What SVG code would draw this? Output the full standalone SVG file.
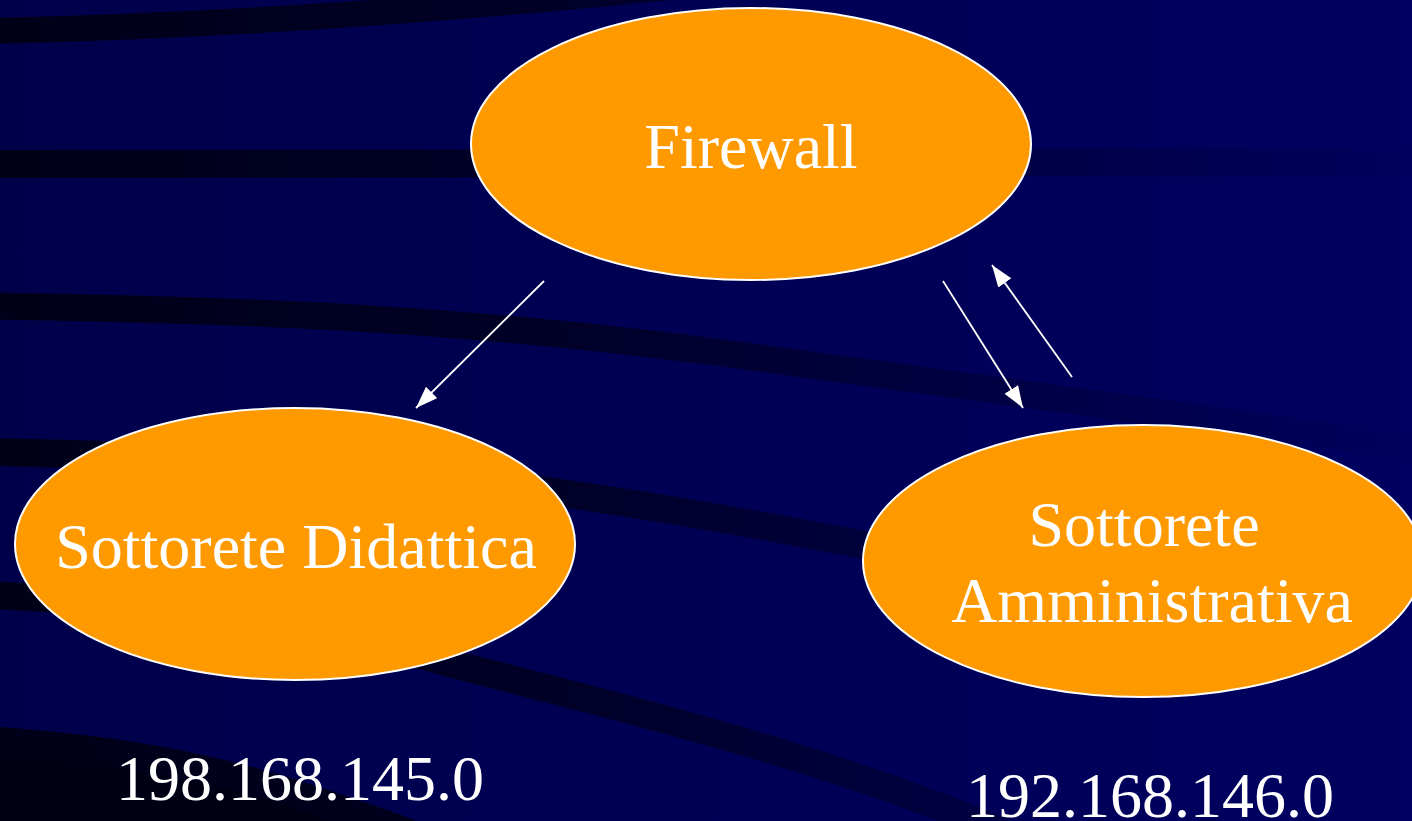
<svg xmlns="http://www.w3.org/2000/svg" width="1412" height="821" viewBox="0 0 1412 821">
  <defs>
    <linearGradient id="bg" x1="0" y1="0" x2="1412" y2="0" gradientUnits="userSpaceOnUse">
      <stop offset="0" stop-color="#00004a"/>
      <stop offset="1" stop-color="#000060"/>
    </linearGradient>
    <linearGradient id="stripe" x1="0" y1="0" x2="1412" y2="0" gradientUnits="userSpaceOnUse">
      <stop offset="0" stop-color="#000018" stop-opacity="1"/>
      <stop offset="0.4" stop-color="#000020" stop-opacity="0.85"/>
      <stop offset="0.7" stop-color="#000028" stop-opacity="0.45"/>
      <stop offset="1" stop-color="#000030" stop-opacity="0.05"/>
    </linearGradient>
    <marker id="arrow" markerUnits="userSpaceOnUse" markerWidth="24" markerHeight="18" refX="22" refY="8" orient="auto">
      <path d="M0,0 L22,8 L0,16 z" fill="#ffffff"/>
    </marker>
    <style>
      .stripe { fill: none; stroke: url(#stripe); }
      .node { fill: #ff9900; stroke: #ffffff; stroke-width: 2; }
      .label { font-family: "Liberation Serif", "Times New Roman", serif; font-size: 64px; fill: #ffffff; text-anchor: middle; }
      .conn { stroke: #ffffff; stroke-width: 1.8; fill: none; marker-end: url(#arrow); }
    </style>
  </defs>

  <g id="background">
    <rect x="0" y="0" width="1412" height="821" fill="url(#bg)"/>
    <path class="stripe" stroke-width="26" d="M-10,31 Q 320,24 720,-18"/>
    <path class="stripe" stroke-width="28" d="M-10,164 L1420,162"/>
    <path class="stripe" stroke-width="27" d="M-10,306 C 250,310 450,318 700,350 S 1200,418 1420,448"/>
    <path class="stripe" stroke-width="28" d="M-10,452 C 200,455 400,470 548,491 S 800,532 1150,600"/>
    <path class="stripe" stroke-width="28" d="M-10,595 C 200,605 350,635 446,662 S 800,745 1010,835"/>
    <path d="M0,727 C 160,740 300,775 440,830 L0,830 z" fill="#000014"/>
    <path class="stripe" stroke-width="28" d="M-10,741 C 150,750 280,780 420,840"/>
  </g>

  <g id="connectors">
    <line class="conn" x1="544" y1="281" x2="416" y2="408"/>
    <line class="conn" x1="943" y1="281" x2="1023" y2="408"/>
    <line class="conn" x1="1072" y1="377" x2="992" y2="265"/>
  </g>

  <g id="node-firewall">
    <ellipse class="node" cx="751" cy="144" rx="280" ry="136"/>
    <text class="label" x="751" y="168">Firewall</text>
  </g>

  <g id="node-didattica">
    <ellipse class="node" cx="295" cy="544" rx="280" ry="136"/>
    <text class="label" x="296" y="568">Sottorete Didattica</text>
  </g>

  <g id="node-amministrativa">
    <ellipse class="node" cx="1143" cy="561" rx="280" ry="136"/>
    <text class="label" x="1144" y="546">Sottorete</text>
    <text class="label" x="1152" y="622">Amministrativa</text>
  </g>

  <g id="addresses">
    <text class="label" x="300" y="800">198.168.145.0</text>
    <text class="label" x="1150" y="817">192.168.146.0</text>
  </g>
</svg>
